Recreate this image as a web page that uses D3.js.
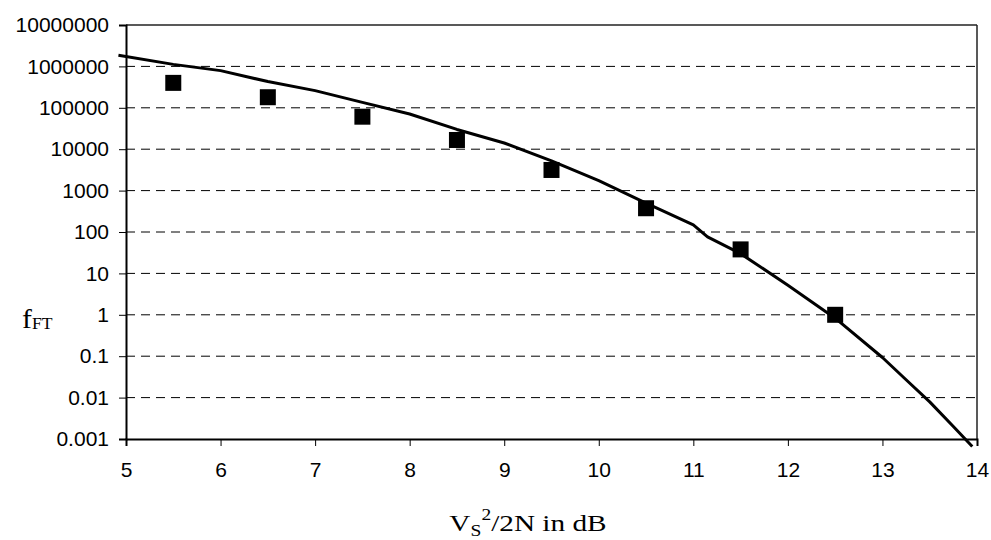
<!DOCTYPE html>
<html>
<head>
<meta charset="utf-8">
<script src="https://cdn.jsdelivr.net/npm/d3@7"></script>
<style>
  html, body { margin: 0; padding: 0; background: #fff; }
  svg { display: block; }
</style>
</head>
<body>
<svg id="chart" width="991" height="540"></svg>
<script>
// Measured points (squares)
const measuredX = [5.5, 6.5, 7.5, 8.5, 9.5, 10.5, 11.5, 12.5];
const measuredF = [4.0e5, 1.8e5, 6.1e4, 1.67e4, 3150, 375, 38, 1.0];

// Theoretical curve (solid line)
const curveX = [4.92, 5.5, 6.0, 6.5, 7.0, 7.5, 8.0, 8.5, 9.0, 9.5, 10.0, 10.5, 11.0, 11.15, 11.5, 12.0, 12.5, 13.0, 13.25, 13.5, 13.75, 13.95];
const curveF = [1.86e6, 1.12e6, 7.9e5, 4.3e5, 2.6e5, 1.35e5, 7.1e4, 3.0e4, 1.41e4, 5.2e3, 1.74e3, 500, 148, 76, 30, 5.2, 0.83, 0.093, 0.027, 0.0079, 0.002, 0.00066];

// Axis ticks
const xTicks = [5, 6, 7, 8, 9, 10, 11, 12, 13, 14];
const yTicks = [0.001, 0.01, 0.1, 1, 10, 100, 1000, 10000, 100000, 1000000, 10000000];
const yTickLabels = ["0.001", "0.01", "0.1", "1", "10", "100", "1000", "10000", "100000", "1000000", "10000000"];

const svg = d3.select("#chart");
const plotLeft = 126, plotRight = 977, plotTop = 25, plotBottom = 439;

const x = d3.scaleLinear().domain([5, 14]).range([plotLeft, plotRight]);
const y = d3.scaleLog().domain([0.001, 1e7]).range([plotBottom, plotTop]);

// Horizontal dashed gridlines
svg.append("g")
  .selectAll("line")
  .data(yTicks.filter(v => v > 0.001 && v < 1e7))
  .join("line")
  .attr("x1", plotLeft).attr("x2", plotRight)
  .attr("y1", d => y(d)).attr("y2", d => y(d))
  .attr("stroke", "#000")
  .attr("stroke-width", 1)
  .attr("stroke-dasharray", "9,6");

// Frame: top and right edges
svg.append("line").attr("x1", plotLeft).attr("x2", plotRight).attr("y1", plotTop).attr("y2", plotTop)
  .attr("stroke", "#222").attr("stroke-width", 1.5);
svg.append("line").attr("x1", plotRight).attr("x2", plotRight).attr("y1", plotTop).attr("y2", plotBottom)
  .attr("stroke", "#222").attr("stroke-width", 1.5);

// Y axis
const yAxis = d3.axisLeft(y)
  .tickValues(yTicks)
  .tickFormat((d, i) => yTickLabels[i])
  .tickSize(7)
  .tickPadding(10);
const gy = svg.append("g").attr("transform", `translate(${plotLeft},0)`).call(yAxis);
gy.select(".domain").attr("stroke", "#000").attr("stroke-width", 2);
gy.selectAll(".tick line").attr("stroke", "#000").attr("stroke-width", 1);
gy.selectAll("text")
  .attr("font-family", "'Liberation Sans', Arial, sans-serif")
  .attr("font-size", 21)
  .attr("fill", "#000");

// X axis
const xAxis = d3.axisBottom(x)
  .tickValues(xTicks)
  .tickFormat(d3.format("d"))
  .tickSize(7)
  .tickPadding(16);
const gx = svg.append("g").attr("transform", `translate(0,${plotBottom})`).call(xAxis);
gx.select(".domain").attr("stroke", "#000").attr("stroke-width", 2);
gx.selectAll(".tick line").attr("stroke", "#000").attr("stroke-width", 1);
gx.selectAll("text")
  .attr("font-family", "'Liberation Sans', Arial, sans-serif")
  .attr("font-size", 21)
  .attr("fill", "#000");

// Curve
const line = d3.line().x(d => x(d[0])).y(d => y(d[1]));
svg.append("path")
  .datum(curveX.map((v, i) => [v, curveF[i]]))
  .attr("d", line)
  .attr("fill", "none")
  .attr("stroke", "#000")
  .attr("stroke-width", 3)
  .attr("stroke-linejoin", "round");

// Square markers
const s = 16;
svg.append("g")
  .selectAll("rect")
  .data(measuredX.map((v, i) => [v, measuredF[i]]))
  .join("rect")
  .attr("x", d => x(d[0]) - s / 2)
  .attr("y", d => y(d[1]) - s / 2)
  .attr("width", s).attr("height", s)
  .attr("fill", "#000");

// Axis titles (serif, slightly widened)
const serif = "'Liberation Serif', 'Times New Roman', serif";
const xt = svg.append("text")
  .attr("transform", "translate(528,531) scale(1.22,1)")
  .attr("text-anchor", "middle")
  .attr("font-family", serif)
  .attr("font-size", 24)
  .attr("fill", "#000");
xt.append("tspan").text("V");
xt.append("tspan").attr("font-size", 16).attr("dy", 5).text("S");
xt.append("tspan").attr("font-size", 16).attr("dy", -16).text("2");
xt.append("tspan").attr("dy", 11).text("/2N in dB");

const yt = svg.append("text")
  .attr("transform", "translate(22,328) scale(1.1,1)")
  .attr("font-family", serif)
  .attr("font-size", 27)
  .attr("fill", "#000");
yt.append("tspan").text("f");
yt.append("tspan").attr("font-size", 16).attr("dy", 1).text("FT");
</script>
</body>
</html>
